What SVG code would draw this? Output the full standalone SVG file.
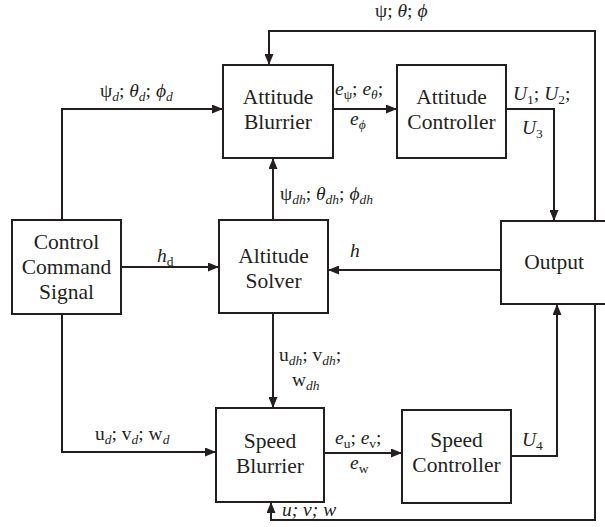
<svg xmlns="http://www.w3.org/2000/svg" width="605" height="527" viewBox="0 0 605 527">
<style>
.box{fill:#fff;stroke:#231f20;stroke-width:2}
.ln{fill:none;stroke:#231f20;stroke-width:2}
text{font-family:'Liberation Serif','DejaVu Serif',Times,serif;fill:#231f20}
.t{font-size:21.5px;text-anchor:middle}
.l{font-size:19.5px}
.i{font-style:italic}
</style>
<defs>
<marker id="ah" viewBox="0 0 11 9" refX="11" refY="4.5" markerWidth="11" markerHeight="9" markerUnits="userSpaceOnUse" orient="auto">
<path d="M0 0 L11 4.5 L0 9 Z" fill="#231f20"/>
</marker>
</defs>
<rect width="605" height="527" fill="#fff"/>
<g id="connectors">
<path class="ln" d="M595 221 V31 H269 V65" marker-end="url(#ah)"/>
<path class="ln" d="M62 220 V109 H223" marker-end="url(#ah)"/>
<path class="ln" d="M333 109 H397" marker-end="url(#ah)"/>
<path class="ln" d="M506 109 H554 V221" marker-end="url(#ah)"/>
<path class="ln" d="M273 220 V158" marker-end="url(#ah)"/>
<path class="ln" d="M121 267 H219" marker-end="url(#ah)"/>
<path class="ln" d="M501 270 H328" marker-end="url(#ah)"/>
<path class="ln" d="M273 313 V408" marker-end="url(#ah)"/>
<path class="ln" d="M62 314 V452 H216" marker-end="url(#ah)"/>
<path class="ln" d="M324 453 H402" marker-end="url(#ah)"/>
<path class="ln" d="M511 456 H557 V304" marker-end="url(#ah)"/>
<path class="ln" d="M595 304 V520 H271 V502" marker-end="url(#ah)"/>
</g>
<g id="labels">
<text class="l" x="375" y="17">ψ; <tspan class="i">θ</tspan>; <tspan class="i">ϕ</tspan></text>
<text class="l" x="100" y="97">ψ<tspan class="i" font-size="13.5" dy="4">d</tspan><tspan dy="-4">; </tspan><tspan class="i">θ</tspan><tspan class="i" font-size="13.5" dy="4">d</tspan><tspan dy="-4">; </tspan><tspan class="i">ϕ</tspan><tspan class="i" font-size="13.5" dy="4">d</tspan></text>
<text class="l" x="335" y="95"><tspan class="i">e</tspan><tspan font-size="13.5" dy="4">ψ</tspan><tspan dy="-4">; </tspan><tspan class="i">e</tspan><tspan class="i" font-size="13.5" dy="4">θ</tspan><tspan dy="-4">;</tspan></text>
<text class="l" x="350" y="125"><tspan class="i">e</tspan><tspan class="i" font-size="13.5" dy="4">ϕ</tspan></text>
<text class="l" x="513" y="100"><tspan class="i">U</tspan><tspan font-size="13.5" dy="4">1</tspan><tspan dy="-4">; </tspan><tspan class="i">U</tspan><tspan font-size="13.5" dy="4">2</tspan><tspan dy="-4">;</tspan></text>
<text class="l" x="522" y="134"><tspan class="i">U</tspan><tspan font-size="13.5" dy="4">3</tspan></text>
<text class="l" x="280" y="200">ψ<tspan class="i" font-size="13.5" dy="4">dh</tspan><tspan dy="-4">; </tspan><tspan class="i">θ</tspan><tspan class="i" font-size="13.5" dy="4">dh</tspan><tspan dy="-4">; </tspan><tspan class="i">ϕ</tspan><tspan class="i" font-size="13.5" dy="4">dh</tspan></text>
<text class="l" x="157" y="262"><tspan class="i">h</tspan><tspan font-size="13.5" dy="4">d</tspan></text>
<text class="l i" x="350" y="257">h</text>
<text class="l" x="279" y="361">u<tspan class="i" font-size="13.5" dy="4">dh</tspan><tspan dy="-4">; </tspan>v<tspan class="i" font-size="13.5" dy="4">dh</tspan><tspan dy="-4">;</tspan></text>
<text class="l" x="292" y="386">w<tspan class="i" font-size="13.5" dy="4">dh</tspan></text>
<text class="l" x="95" y="440">u<tspan class="i" font-size="13.5" dy="4">d</tspan><tspan dy="-4">; </tspan>v<tspan class="i" font-size="13.5" dy="4">d</tspan><tspan dy="-4">; </tspan>w<tspan class="i" font-size="13.5" dy="4">d</tspan></text>
<text class="l" x="335" y="444"><tspan class="i">e</tspan><tspan font-size="13.5" dy="4">u</tspan><tspan dy="-4">; </tspan><tspan class="i">e</tspan><tspan font-size="13.5" dy="4">v</tspan><tspan dy="-4">;</tspan></text>
<text class="l" x="350" y="469"><tspan class="i">e</tspan><tspan font-size="13.5" dy="4">w</tspan></text>
<text class="l" x="522" y="446"><tspan class="i">U</tspan><tspan font-size="13.5" dy="4">4</tspan></text>
<text class="l i" x="282" y="516">u; v; w</text>
</g>
<g id="attitude-blurrier">
<rect class="box" x="223" y="65" width="110" height="93"/>
<text class="t" x="278" y="104">Attitude</text>
<text class="t" x="278" y="129">Blurrier</text>
</g>
<g id="attitude-controller">
<rect class="box" x="397" y="65" width="109" height="93"/>
<text class="t" x="451.5" y="104">Attitude</text>
<text class="t" x="451.5" y="129">Controller</text>
</g>
<g id="control-command-signal">
<rect class="box" x="12" y="220" width="109" height="94"/>
<text class="t" x="66.5" y="249">Control</text>
<text class="t" x="66.5" y="274">Command</text>
<text class="t" x="66.5" y="299">Signal</text>
</g>
<g id="altitude-solver">
<rect class="box" x="219" y="220" width="109" height="93"/>
<text class="t" x="273.5" y="263">Altitude</text>
<text class="t" x="273.5" y="288">Solver</text>
</g>
<g id="output">
<rect class="box" x="501" y="221" width="112" height="83"/>
<text class="t" x="554" y="269">Output</text>
</g>
<g id="speed-blurrier">
<rect class="box" x="216" y="408" width="108" height="94"/>
<text class="t" x="270" y="448">Speed</text>
<text class="t" x="270" y="473">Blurrier</text>
</g>
<g id="speed-controller">
<rect class="box" x="402" y="410" width="109" height="93"/>
<text class="t" x="456.5" y="447">Speed</text>
<text class="t" x="456.5" y="472">Controller</text>
</g>
</svg>
